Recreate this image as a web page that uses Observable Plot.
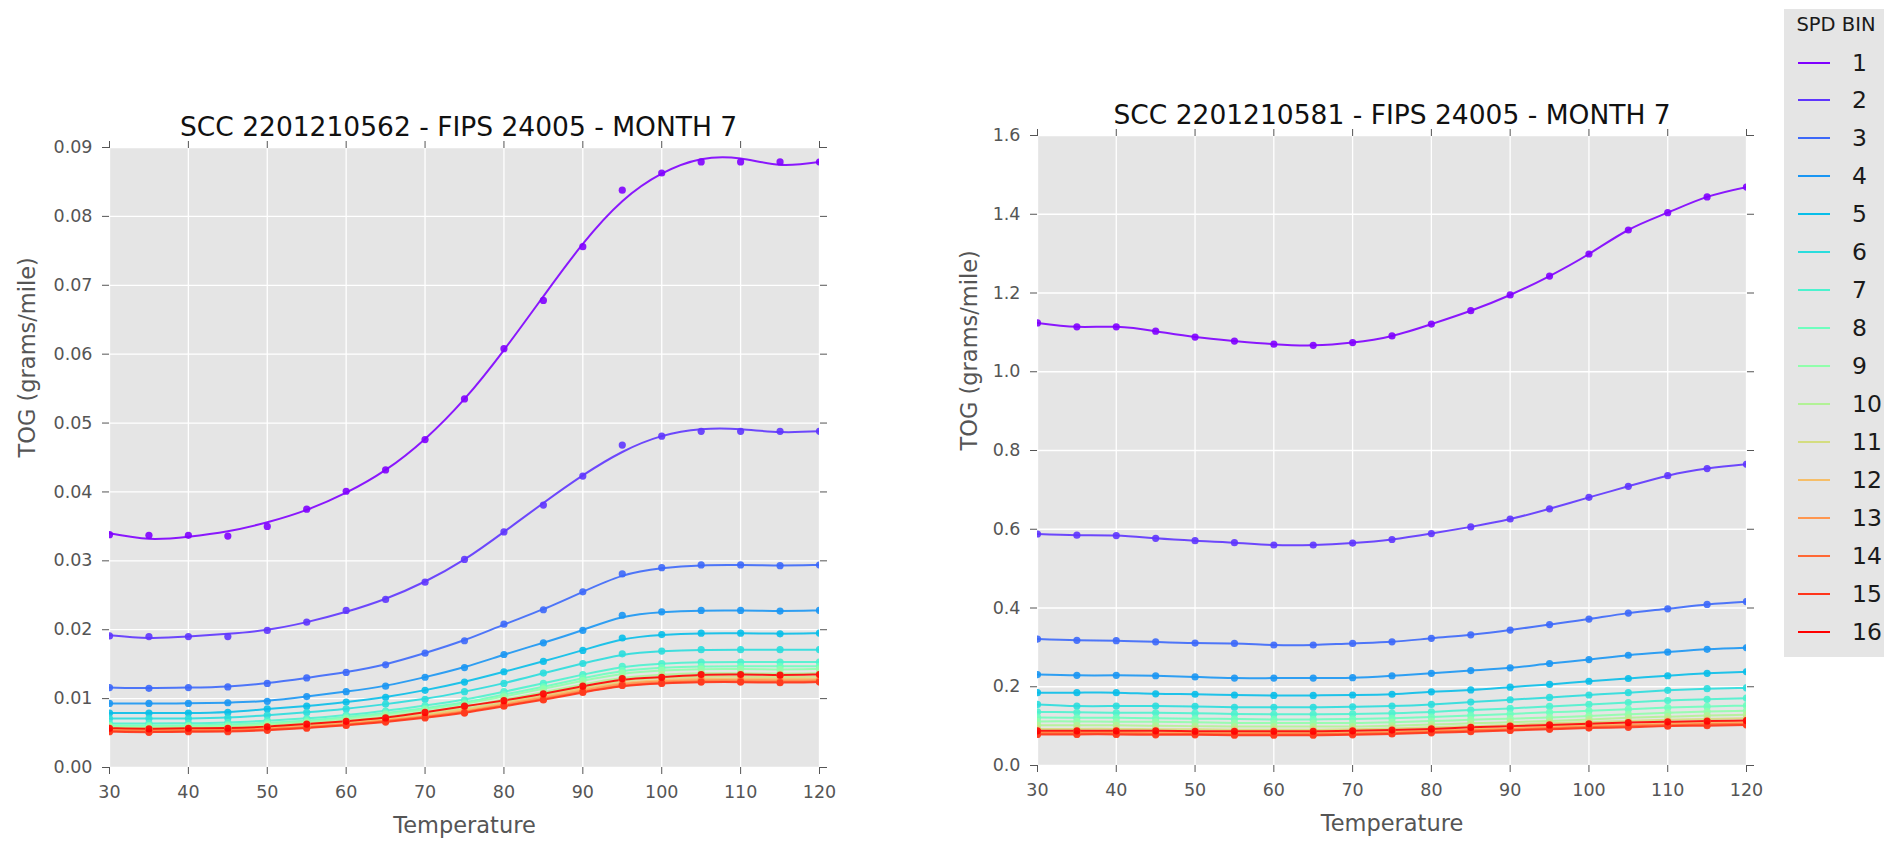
<!DOCTYPE html>
<html>
<head>
<meta charset="utf-8">
<script src="https://cdn.jsdelivr.net/npm/d3@7"></script>
<script src="https://cdn.jsdelivr.net/npm/@observablehq/plot@0.6"></script>
<style>
  html, body { margin: 0; padding: 0; background: #ffffff; }
  #page { position: relative; width: 1884px; height: 843px; overflow: hidden; font-family: "DejaVu Sans", sans-serif; }
  #left { position: absolute; left: 0; top: 0; width: 860px; }
  #right { position: absolute; left: 940px; top: 0; width: 830px; }
  #legend { position: absolute; left: 1784px; top: 9px; width: 100px; height: 648px; background: #e5e5e5; }
  #legend .ttl { position: absolute; left: 0; width: 104px; top: 4px; text-align: center; font-size: 19.5px; color: #1a1a1a; }
  #legend .row { position: absolute; left: 0; width: 100px; height: 30px; }
  #legend .sw { position: absolute; left: 14px; width: 32px; height: 2px; top: 14px; }
  #legend .lb { position: absolute; left: 68px; top: 0px; font-size: 23.5px; color: #1a1a1a; line-height: 30px; }
</style>
</head>
<body>
<div id="page">
  <div id="left"></div>
  <div id="right"></div>
  <div id="legend"></div>
</div>
<script>
// ---------- data ----------
const temps = [30, 35, 40, 45, 50, 55, 60, 65, 70, 75, 80, 85, 90, 95, 100, 105, 110, 115, 120];
const spdBins = [1, 2, 3, 4, 5, 6, 7, 8, 9, 10, 11, 12, 13, 14, 15, 16];
const binColors = ["#8000ff", "#5e35fe", "#3c68f9", "#1a96f3", "#08bee9", "#2adddd", "#4cf2ce", "#6efebe",
                   "#90feab", "#b2f296", "#d4dd80", "#f6be68", "#ff964f", "#ff6835", "#ff351b", "#ff0000"];
const xTicks = [30, 40, 50, 60, 70, 80, 90, 100, 110, 120];
const yTicksLeft = [0, 0.01, 0.02, 0.03, 0.04, 0.05, 0.06, 0.07, 0.08, 0.09];
const yTicksRight = [0, 0.2, 0.4, 0.6, 0.8, 1.0, 1.2, 1.4, 1.6];
const titleLeft = "SCC 2201210562 - FIPS 24005 - MONTH 7";
const titleRight = "SCC 2201210581 - FIPS 24005 - MONTH 7";
const xLabel = "Temperature";
const yLabel = "TOG (grams/mile)";
const legendTitle = "SPD BIN";

// left panel: observed points per speed bin
const L1 = [0.0338,0.0337,0.0337,0.0336,0.0350,0.0375,0.0401,0.0432,0.0476,0.0535,0.0608,0.0678,0.0756,0.0838,0.0863,0.0879,0.0879,0.0879,0.0879];
const L2 = [0.0191,0.0190,0.0190,0.0190,0.0199,0.0211,0.0228,0.0244,0.0269,0.0302,0.0342,0.0381,0.0423,0.0468,0.0481,0.0488,0.0488,0.0488,0.0488];
const L3 = [0.0116,0.0115,0.0116,0.0117,0.0122,0.0130,0.0138,0.0149,0.0166,0.0184,0.0208,0.0229,0.0255,0.0281,0.0290,0.0294,0.0294,0.0293,0.0294];
const L4 = [0.0093,0.0093,0.0093,0.0094,0.0096,0.0103,0.0110,0.0118,0.0131,0.0145,0.0164,0.0181,0.0199,0.0221,0.0226,0.0228,0.0228,0.0227,0.0228];
const L5 = [0.0079,0.0079,0.0079,0.0080,0.0085,0.0089,0.0095,0.0102,0.0112,0.0124,0.0139,0.0154,0.0170,0.0188,0.0193,0.0195,0.0195,0.0194,0.0195];
const L6 = [0.0071,0.0071,0.0071,0.0072,0.0076,0.0080,0.0085,0.0092,0.0099,0.0110,0.0122,0.0137,0.0151,0.0165,0.0169,0.0171,0.0171,0.0171,0.0171];
const L7 = [0.0064,0.0064,0.0064,0.0065,0.0068,0.0071,0.0076,0.0082,0.0090,0.0098,0.0110,0.0122,0.0135,0.0147,0.0151,0.0153,0.0153,0.0153,0.0153];
const L8 = [0.0061,0.0061,0.0061,0.0062,0.0065,0.0068,0.0073,0.0079,0.0086,0.0094,0.0106,0.0117,0.0130,0.0141,0.0145,0.0147,0.0147,0.0147,0.0147];
const L9 = [0.0060,0.0059,0.0060,0.0060,0.0063,0.0066,0.0071,0.0077,0.0084,0.0092,0.0103,0.0114,0.0126,0.0137,0.0141,0.0143,0.0143,0.0142,0.0143];
const L10 = [0.0058,0.0057,0.0058,0.0058,0.0061,0.0064,0.0068,0.0074,0.0081,0.0088,0.0099,0.0109,0.0121,0.0131,0.0135,0.0137,0.0137,0.0136,0.0137];
const L11 = [0.0056,0.0055,0.0056,0.0056,0.0059,0.0062,0.0066,0.0071,0.0078,0.0085,0.0095,0.0105,0.0116,0.0127,0.0130,0.0132,0.0132,0.0131,0.0132];
const L12 = [0.0055,0.0054,0.0055,0.0055,0.0057,0.0060,0.0064,0.0069,0.0076,0.0083,0.0093,0.0103,0.0114,0.0124,0.0127,0.0129,0.0129,0.0128,0.0129];
const L13 = [0.0054,0.0053,0.0054,0.0054,0.0056,0.0059,0.0063,0.0068,0.0074,0.0081,0.0091,0.0101,0.0112,0.0122,0.0125,0.0127,0.0127,0.0126,0.0127];
const L14 = [0.0053,0.0052,0.0053,0.0053,0.0055,0.0058,0.0062,0.0067,0.0073,0.0080,0.0090,0.0099,0.0110,0.0120,0.0123,0.0125,0.0125,0.0124,0.0125];
const L15 = [0.0052,0.0051,0.0052,0.0052,0.0054,0.0057,0.0061,0.0066,0.0072,0.0079,0.0089,0.0098,0.0109,0.0119,0.0122,0.0124,0.0124,0.0123,0.0124];
const L16 = [0.0057,0.0056,0.0057,0.0057,0.0059,0.0063,0.0067,0.0072,0.0080,0.0089,0.0097,0.0107,0.0118,0.0129,0.0131,0.0135,0.0135,0.0134,0.0135];
// left panel: fitted curve values read where they visibly differ from the points
const L1fit = [0.0340,0.0332,0.0335,0.0343,0.0356,0.0374,0.0399,0.0432,0.0477,0.0535,0.0606,0.0684,0.0760,0.0822,0.0862,0.0883,0.0884,0.0875,0.0879];
const L2fit = [0.0192,0.0188,0.0190,0.0194,0.0200,0.0211,0.0226,0.0245,0.0270,0.0302,0.0342,0.0384,0.0424,0.0458,0.0481,0.0491,0.0491,0.0487,0.0488];

// right panel: points per speed bin
const R1 = [1.124,1.114,1.114,1.103,1.088,1.078,1.070,1.067,1.074,1.091,1.121,1.155,1.195,1.243,1.299,1.360,1.404,1.444,1.469];
const R2 = [0.588,0.585,0.584,0.577,0.571,0.566,0.560,0.560,0.565,0.574,0.589,0.606,0.626,0.652,0.681,0.709,0.736,0.754,0.765];
const R3 = [0.321,0.318,0.317,0.314,0.311,0.310,0.306,0.306,0.310,0.314,0.323,0.332,0.344,0.358,0.372,0.387,0.398,0.409,0.416];
const R4 = [0.231,0.229,0.229,0.228,0.225,0.222,0.222,0.222,0.223,0.228,0.234,0.241,0.248,0.259,0.269,0.280,0.288,0.295,0.299];
const R5 = [0.185,0.185,0.185,0.182,0.181,0.179,0.178,0.178,0.179,0.181,0.187,0.192,0.199,0.206,0.214,0.221,0.228,0.234,0.238];
const R6 = [0.155,0.151,0.151,0.151,0.150,0.148,0.148,0.148,0.149,0.151,0.155,0.161,0.167,0.173,0.179,0.185,0.191,0.195,0.197];
const R7 = [0.136,0.135,0.134,0.134,0.133,0.131,0.130,0.130,0.131,0.133,0.136,0.141,0.145,0.150,0.155,0.160,0.165,0.168,0.171];
const R8 = [0.122,0.121,0.121,0.120,0.119,0.118,0.117,0.117,0.118,0.120,0.123,0.127,0.131,0.135,0.139,0.143,0.147,0.150,0.152];
const R9 = [0.112,0.112,0.111,0.111,0.110,0.108,0.108,0.108,0.108,0.110,0.113,0.116,0.119,0.122,0.126,0.130,0.134,0.137,0.139];
const R10 = [0.102,0.102,0.102,0.101,0.100,0.099,0.099,0.099,0.099,0.101,0.104,0.107,0.110,0.113,0.117,0.121,0.124,0.127,0.129];
const R11 = [0.093,0.093,0.093,0.092,0.092,0.091,0.091,0.091,0.092,0.094,0.097,0.100,0.103,0.107,0.110,0.113,0.116,0.118,0.120];
const R12 = [0.085,0.085,0.085,0.084,0.084,0.083,0.083,0.083,0.084,0.086,0.089,0.092,0.095,0.099,0.102,0.104,0.107,0.109,0.110];
const R13 = [0.083,0.083,0.083,0.082,0.082,0.081,0.081,0.081,0.082,0.084,0.087,0.090,0.093,0.096,0.099,0.102,0.104,0.106,0.107];
const R14 = [0.081,0.081,0.081,0.080,0.080,0.079,0.079,0.079,0.080,0.082,0.085,0.088,0.091,0.094,0.097,0.100,0.102,0.104,0.105];
const R15 = [0.079,0.079,0.079,0.078,0.078,0.077,0.077,0.077,0.078,0.080,0.083,0.086,0.089,0.092,0.095,0.097,0.100,0.101,0.103];
const R16 = [0.088,0.088,0.088,0.088,0.087,0.087,0.087,0.087,0.088,0.090,0.093,0.097,0.100,0.103,0.106,0.109,0.111,0.113,0.114];

const leftPoints = [L1, L2, L3, L4, L5, L6, L7, L8, L9, L10, L11, L12, L13, L14, L15, L16];
const leftFits = {1: L1fit, 2: L2fit};
const rightPoints = [R1, R2, R3, R4, R5, R6, R7, R8, R9, R10, R11, R12, R13, R14, R15, R16];

function rowsOf(seriesList, overrides) {
  const rows = [];
  seriesList.forEach((vals, i) => {
    const bin = spdBins[i];
    const use = (overrides && overrides[bin]) || vals;
    use.forEach((v, j) => rows.push({temp: temps[j], value: v, bin, fitted: !!(overrides && overrides[bin])}));
  });
  return rows;
}

const colorScale = {type: "ordinal", domain: spdBins, range: binColors};
const GREY = "#555555";

function panel({points, fits, yDomain, yTicks, yFormat, title, titleDx, ml, mr, mt, mb, width, yLabelDx, smoothCurve}) {
  const ptRows = rowsOf(points);
  const lnRows = rowsOf(points, fits);
  const fitRows = lnRows.filter(d => d.fitted);
  const otherRows = lnRows.filter(d => !d.fitted);
  return Plot.plot({
    width, height: 843,
    marginLeft: ml, marginRight: mr, marginTop: mt, marginBottom: mb,
    style: {fontFamily: "DejaVu Sans, sans-serif", background: "transparent", overflow: "visible"},
    x: {domain: [30, 120]},
    y: {domain: yDomain},
    color: colorScale,
    marks: [
      Plot.frame({fill: "#e5e5e5", stroke: null}),
      Plot.gridX(xTicks, {stroke: "white", strokeOpacity: 1, strokeWidth: 1.3}),
      Plot.gridY(yTicks, {stroke: "white", strokeOpacity: 1, strokeWidth: 1.3}),
      Plot.line(fitRows, {x: "temp", y: "value", z: "bin", stroke: "bin", strokeWidth: 2, curve: "natural", strokeOpacity: 0.9, clip: true}),
      Plot.line(otherRows, {x: "temp", y: "value", z: "bin", stroke: "bin", strokeWidth: 2, curve: smoothCurve, strokeOpacity: 0.9, clip: true}),
      Plot.dot(ptRows, {x: "temp", y: "value", fill: "bin", r: 3.6, fillOpacity: 0.9, clip: true}),
      Plot.axisX(xTicks, {anchor: "bottom", tickSize: 7, tickPadding: 11, fontSize: 17.5, color: GREY, tickFormat: d => String(d), label: null}),
      Plot.axisX(xTicks, {anchor: "top", tickSize: 7, color: GREY, tickFormat: () => "", label: null}),
      Plot.axisY(yTicks, {anchor: "left", tickSize: 7, tickPadding: 10, fontSize: 17.5, color: GREY, tickFormat: yFormat, label: null}),
      Plot.axisY(yTicks, {anchor: "right", tickSize: 7, color: GREY, tickFormat: () => "", label: null}),
      Plot.text([title], {frameAnchor: "top", dx: titleDx, dy: -12, lineAnchor: "bottom", fontSize: 26.5, fill: "#111"}),
      Plot.text([xLabel], {frameAnchor: "bottom", dy: 65, lineAnchor: "bottom", fontSize: 22.5, fill: GREY}),
      Plot.text([yLabel], {frameAnchor: "left", dx: yLabelDx, rotate: -90, lineAnchor: "bottom", fontSize: 22.5, fill: GREY})
    ]
  });
}

document.getElementById("left").appendChild(panel({
  points: leftPoints, fits: leftFits, yDomain: [0, 0.09], yTicks: yTicksLeft, yFormat: d3.format(".2f"),
  title: titleLeft, titleDx: -6, ml: 109, mr: 41, mt: 147, mb: 76, width: 860, yLabelDx: -75, smoothCurve: "basis"
}));
document.getElementById("right").appendChild(panel({
  points: rightPoints, fits: null, yDomain: [0, 1.6], yTicks: yTicksRight, yFormat: d3.format(".1f"),
  title: titleRight, titleDx: 0, ml: 97, mr: 24, mt: 135, mb: 78, width: 830, yLabelDx: -61, smoothCurve: "natural"
}));

// legend
const legend = document.getElementById("legend");
const t = document.createElement("div");
t.className = "ttl"; t.textContent = legendTitle;
legend.appendChild(t);
spdBins.forEach((b, i) => {
  const row = document.createElement("div");
  row.className = "row";
  row.style.top = (38.5 + i * 37.96) + "px";
  const sw = document.createElement("div");
  sw.className = "sw"; sw.style.background = binColors[i];
  const lb = document.createElement("div");
  lb.className = "lb"; lb.textContent = String(b);
  row.appendChild(sw); row.appendChild(lb);
  legend.appendChild(row);
});
</script>
</body>
</html>
